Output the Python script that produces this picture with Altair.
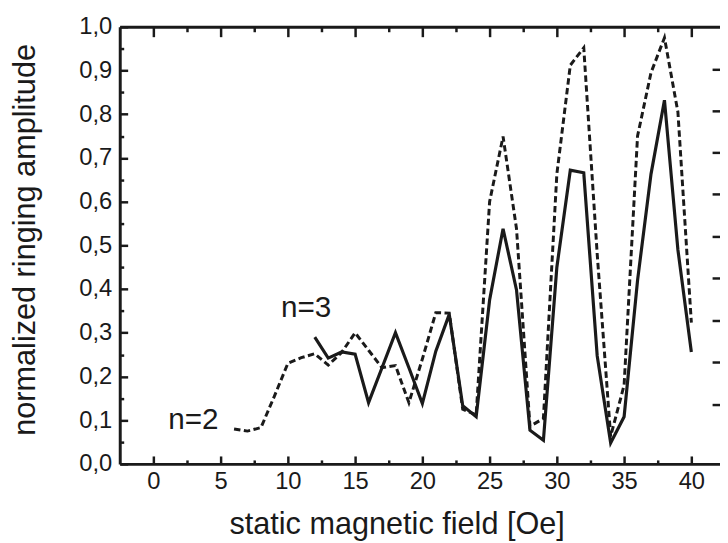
import altair as alt
import pandas as pd

# ---- data ----
field_n2 = [6, 7, 8, 9, 10, 11, 12, 13, 14, 15, 16, 17, 18, 19, 20, 21, 22, 23,
            24, 25, 26, 27, 28, 29, 30, 31, 32, 33, 34, 35, 36, 37, 38, 39, 40]
amp_n2 = [0.080, 0.075, 0.083, 0.155, 0.230, 0.243, 0.252, 0.226, 0.255, 0.300,
          0.260, 0.220, 0.225, 0.140, 0.240, 0.346, 0.345, 0.125, 0.112, 0.600,
          0.749, 0.538, 0.086, 0.104, 0.663, 0.912, 0.952, 0.480, 0.063, 0.180,
          0.750, 0.895, 0.975, 0.805, 0.323]

field_n3 = [12, 13, 14, 15, 16, 17, 18, 19, 20, 21, 22, 23, 24, 25, 26, 27, 28,
            29, 30, 31, 32, 33, 34, 35, 36, 37, 38, 39, 40]
amp_n3 = [0.290, 0.242, 0.256, 0.251, 0.140, 0.220, 0.300, 0.220, 0.138, 0.258,
          0.342, 0.133, 0.108, 0.375, 0.538, 0.398, 0.077, 0.054, 0.450, 0.672,
          0.666, 0.247, 0.048, 0.108, 0.420, 0.663, 0.832, 0.490, 0.256]

label_text = ["n=2", "n=3"]
label_field = [2.98, 11.36]
label_amp = [0.080, 0.335]

x_major = [0, 5, 10, 15, 20, 25, 30, 35, 40]
x_minor = [2.5, 7.5, 12.5, 17.5, 22.5, 27.5, 32.5, 37.5]
y_major = [0.0, 0.1, 0.2, 0.3, 0.4, 0.5, 0.6, 0.7, 0.8, 0.9, 1.0]
y_minor = [0.05, 0.15, 0.25, 0.35, 0.45, 0.55, 0.65, 0.75, 0.85, 0.95]
y_right = [0.136, 0.233, 0.328, 0.425, 0.520, 0.618, 0.713, 0.808, 0.903]

df2 = pd.DataFrame({"field": field_n2, "amp": amp_n2})
df3 = pd.DataFrame({"field": field_n3, "amp": amp_n3})
dfl = pd.DataFrame({"field": label_field, "amp": label_amp, "text": label_text})

INK = "#1a1a1a"
FONT = "Liberation Sans"

xscale = alt.Scale(domain=[-2.5, 42.13], nice=False, zero=False)
yscale = alt.Scale(domain=[0, 1], nice=False, zero=False)

common = dict(grid=False, domainColor=INK, tickColor=INK, labelColor=INK,
              titleColor=INK, labelFont=FONT, titleFont=FONT, domainWidth=3,
              tickWidth=2.5)

def tick_axis(orient, values, size, domain=False, **kw):
    return alt.Axis(orient=orient, values=values, tickSize=alt.ExprRef(expr=str(-size)),
                    domain=domain, labels=False, title=None, **common, **kw)

x_main = alt.Axis(orient="bottom", values=x_major, tickSize=alt.ExprRef(expr="-8"),
                  labelFontSize=24, labelPadding=14, labelBaseline="top",
                  title="static magnetic field [Oe]", titleFontSize=31,
                  titleFontWeight="normal", titleX=280, titleY=70,
                  titleBaseline="alphabetic", titleAlign="center", **common)
y_main = alt.Axis(orient="left", values=y_major, tickSize=alt.ExprRef(expr="-8"),
                  labelFontSize=24, labelPadding=16, labelAlign="right",
                  labelBaseline="middle",
                  labelExpr="replace(format(datum.value, '.1f'), '.', ',')",
                  title="normalized ringing amplitude", titleFontSize=31,
                  titleFontWeight="normal", titleX=-86.5, titleY=215,
                  titleAngle=270, titleBaseline="alphabetic", titleAlign="center",
                  **common)

line2 = alt.Chart(df2).mark_line(color=INK, strokeWidth=3, strokeDash=[6.5, 3.5]).encode(
    x=alt.X("field:Q", scale=xscale, axis=x_main),
    y=alt.Y("amp:Q", scale=yscale, axis=y_main),
)
line3 = alt.Chart(df3).mark_line(color=INK, strokeWidth=3.2).encode(
    x=alt.X("field:Q", scale=xscale, axis=tick_axis("bottom", x_minor, 4)),
    y=alt.Y("amp:Q", scale=yscale, axis=tick_axis("left", y_minor, 4)),
)
text3 = alt.Chart(dfl).transform_filter(alt.datum.text == "n=3").mark_text(
    font=FONT, fontSize=30, color=INK, align="center", baseline="alphabetic").encode(
    x=alt.X("field:Q", scale=xscale, axis=tick_axis("top", x_major, 10, domain=True)),
    y=alt.Y("amp:Q", scale=yscale, axis=tick_axis("right", y_right, 8)),
    text="text:N",
)
text2 = alt.Chart(dfl).transform_filter(alt.datum.text == "n=2").mark_text(
    font=FONT, fontSize=30, color=INK, align="center", baseline="alphabetic").encode(
    x=alt.X("field:Q", scale=xscale, axis=tick_axis("top", x_minor, 5)),
    y=alt.Y("amp:Q", scale=yscale, axis=None),
    text="text:N",
)

chart = alt.layer(line2, line3, text3, text2).resolve_axis(
    x="independent", y="independent"
).properties(
    width=607, height=442,
    autosize=alt.AutoSizeParams(type="none"),
    padding={"left": 113, "top": 16, "right": 0, "bottom": 77},
).configure_view(stroke=None).configure(background="white")

chart.save("out.html", embed_options={"renderer": "svg", "actions": False})
